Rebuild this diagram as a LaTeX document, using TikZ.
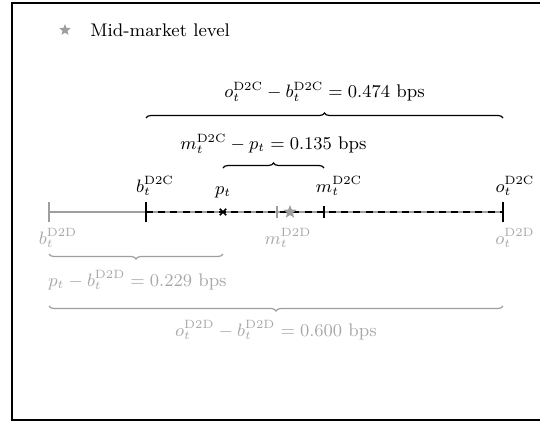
\documentclass[tikz,border=0pt]{standalone}
\usetikzlibrary{decorations.pathreplacing,shapes.geometric}
\definecolor{lgray}{gray}{0.62}
\definecolor{tgray}{gray}{0.66}
\begin{document}
\begin{tikzpicture}[x=0.5pt,y=-0.5pt,
  every node/.style={font=\fontsize{9.15pt}{11pt}\selectfont, inner sep=1pt},
  bracec/.style={decorate, decoration={brace, amplitude=2.5pt}, line width=0.6pt},
  braced/.style={decorate, decoration={brace, amplitude=2.5pt, mirror}, line width=0.6pt, draw=lgray},
  ticktall/.style={line width=0.9pt},
  graylabel/.style={text=tgray},
  starmark/.style={star, star points=5, star point ratio=2.3, fill=lgray, inner sep=0pt, minimum size=7pt}]
\useasboundingbox (0,0) rectangle (540,423);
\clip (0,0) rectangle (540,423);
\draw[line width=0.9pt] (560,3) -- (12,3) -- (12,420) -- (560,420);

% legend
\node[starmark, minimum size=6pt] (legstar) at (65,30) {};
\node[anchor=west] (legtext) at (88,30) {Mid-market level};

% axis points
\coordinate (bD) at (49,212);
\coordinate (bC) at (146,212);
\coordinate (p) at (223,212);
\coordinate (mD) at (277,212);
\coordinate (st) at (290,212);
\coordinate (mC) at (324,212);
\coordinate (oC) at (503,212);

% gray D2D line
\draw[lgray, line width=0.8pt] (bD) -- (oC);
\draw[lgray, line width=0.8pt] ([yshift=-5pt]bD) -- ([yshift=5pt]bD);
\draw[lgray, line width=0.8pt] ([yshift=-3pt]mD) -- ([yshift=3pt]mD);
% black D2C dashed line
\draw[line width=0.9pt, dash pattern=on 3.5pt off 2.6pt] (bC) -- (oC);
\draw[ticktall] ([yshift=-5pt]bC) -- ([yshift=5pt]bC);
\draw[ticktall] ([yshift=-5pt]oC) -- ([yshift=5pt]oC);
\draw[line width=0.9pt] ([yshift=-3pt]mC) -- ([yshift=3pt]mC);
\draw[line width=0.8pt] ([xshift=-1.6pt,yshift=-1.6pt]p) -- ([xshift=1.6pt,yshift=1.6pt]p)
  ([xshift=-1.6pt,yshift=1.6pt]p) -- ([xshift=1.6pt,yshift=-1.6pt]p);
\node[starmark] (midstar) at (st) {};

% labels above
\node (lbC) at (155,186) {$b_t^{\mathrm{D2C}}$};
\node (lp) at (223,192) {$p_t$};
\node (lmC) at (339,186) {$m_t^{\mathrm{D2C}}$};
\node (loC) at (515,186) {$o_t^{\mathrm{D2C}}$};
% labels below
\node[graylabel] (lbD) at (58,238) {$b_t^{\mathrm{D2D}}$};
\node[graylabel] (lmD) at (288,238) {$m_t^{\mathrm{D2D}}$};
\node[graylabel] (loD) at (515,238) {$o_t^{\mathrm{D2D}}$};

% braces
\coordinate (t1) at (146,118); \coordinate (t2) at (503,118);
\draw[bracec] (t1) -- (t2) node[midway, above=7pt] (spreadC) {$o_t^{\mathrm{D2C}}-b_t^{\mathrm{D2C}}=0.474$ bps};
\coordinate (s1) at (223,168); \coordinate (s2) at (324,168);
\draw[bracec] (s1) -- (s2) node[midway, above=6pt] (halfC) {$m_t^{\mathrm{D2C}}-p_t=0.135$ bps};
\coordinate (g1) at (49,254); \coordinate (g2) at (223,254);
\draw[braced] (g1) -- (g2);
\node[graylabel, anchor=west] (halfD) at (46,280) {$p_t-b_t^{\mathrm{D2D}}=0.229$ bps};
\coordinate (h1) at (49,306); \coordinate (h2) at (503,306);
\draw[braced] (h1) -- (h2) node[midway, below=6pt, graylabel] (spreadD) {$o_t^{\mathrm{D2D}}-b_t^{\mathrm{D2D}}=0.600$ bps};
\end{tikzpicture}
\end{document}
